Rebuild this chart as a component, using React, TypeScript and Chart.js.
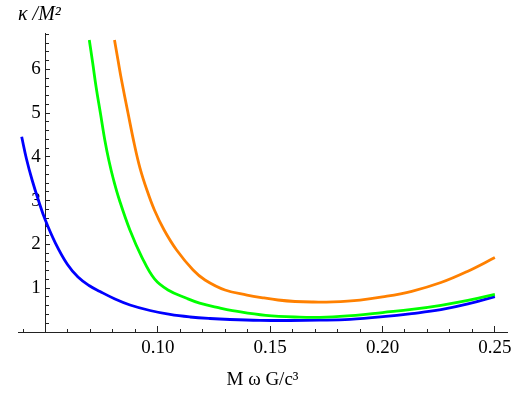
import React, { useEffect, useRef } from "react";
import { Chart, registerables } from "chart.js";

Chart.register(...registerables);

// Blue curve
const blueX = [0.0394, 0.04154, 0.04404, 0.04688, 0.04991, 0.05441, 0.05979, 0.06446, 0.06936, 0.07426, 0.08093, 0.08761, 0.09651, 0.10541, 0.11431, 0.12321, 0.13212, 0.14547, 0.15882, 0.17217, 0.18553, 0.2002, 0.213, 0.226, 0.238, 0.250];
const blueY = [4.46, 3.952, 3.472, 3.004, 2.558, 2.033, 1.542, 1.257, 1.063, 0.925, 0.754, 0.617, 0.491, 0.400, 0.343, 0.308, 0.286, 0.267, 0.263, 0.270, 0.290, 0.349, 0.42, 0.51, 0.64, 0.81];

// Green curve
const greenX = [0.06949, 0.07101, 0.07252, 0.07443, 0.07639, 0.07826, 0.08031, 0.08289, 0.08756, 0.09286, 0.09851, 0.10452, 0.1128, 0.11859, 0.1274, 0.1332, 0.148, 0.163, 0.175, 0.188, 0.200, 0.213, 0.226, 0.238, 0.250];
const greenY = [6.67, 6.144, 5.596, 5.002, 4.386, 3.906, 3.472, 3.015, 2.330, 1.713, 1.211, 0.959, 0.770, 0.660, 0.550, 0.490, 0.380, 0.340, 0.340, 0.380, 0.445, 0.515, 0.61, 0.72, 0.86];

// Orange curve
const orangeX = [0.08071, 0.08218, 0.08383, 0.08672, 0.08952, 0.09206, 0.09513, 0.09847, 0.10279, 0.10835, 0.11569, 0.12099, 0.12989, 0.13968, 0.14725, 0.15348, 0.16105, 0.16861, 0.178, 0.190, 0.200, 0.213, 0.226, 0.238, 0.250];
const orangeY = [6.67, 6.236, 5.756, 5.002, 4.294, 3.746, 3.244, 2.787, 2.330, 1.873, 1.416, 1.188, 0.959, 0.845, 0.777, 0.731, 0.697, 0.685, 0.69, 0.73, 0.80, 0.93, 1.13, 1.39, 1.70];

// Tick labels
const xTickLabels = ["0.10", "0.15", "0.20", "0.25"];
const yTickLabels = ["1", "2", "3", "4", "5", "6"];

const X_MIN = 0.03776;
const X_MAX = 0.2554;
const Y_MIN = 0;
const Y_MAX = 6.83;
const Y_AXIS_AT = 0.05;

const FONT = "'Liberation Serif', 'Times New Roman', serif";

function toPoints(xs: number[], ys: number[]) {
  return xs.map((x, i) => ({ x, y: ys[i] }));
}

export default function App() {
  const ref = useRef<HTMLCanvasElement | null>(null);

  useEffect(() => {
    if (!ref.current) return;
    const lineDs = (label: string, xs: number[], ys: number[], color: string) => ({
      label,
      data: toPoints(xs, ys),
      borderColor: color,
      backgroundColor: color,
      borderWidth: 2.8,
      pointRadius: 0,
      tension: 0.4,
      fill: false,
      xAxisID: "x",
      yAxisID: "y",
    });
    const chart = new Chart(ref.current, {
      type: "line",
      data: {
        datasets: [
          lineDs("orange", orangeX, orangeY, "#ff8000"),
          lineDs("green", greenX, greenY, "#00ff00"),
          lineDs("blue", blueX, blueY, "#0000ff"),
        ],
      },
      options: {
        animation: false,
        responsive: false,
        devicePixelRatio: 1,
        layout: { padding: { left: 18, right: 20, top: 0, bottom: 0 } },
        plugins: {
          legend: { display: false },
          tooltip: { enabled: false },
          title: {
            display: true,
            text: "κ /M²",
            align: "start",
            color: "#000",
            font: { family: FONT, size: 20, style: "italic", weight: "normal", lineHeight: 1.2 },
            padding: { top: 3, bottom: 6 },
          },
        },
        scales: {
          x: {
            type: "linear",
            position: "bottom",
            weight: 1,
            min: X_MIN,
            max: X_MAX,
            afterFit: (s: any) => {
              s.height = 65;
            },
            ticks: {
              stepSize: 0.05,
              autoSkip: false,
              includeBounds: false,
              maxRotation: 0,
              padding: 11,
              color: "#000",
              font: { family: FONT, size: 19 },
              callback: (v: any) => {
                const s = Number(v).toFixed(2);
                return xTickLabels.includes(s) ? s : "";
              },
            },
            grid: { drawOnChartArea: false, drawTicks: true, tickLength: -6, tickColor: "#222", tickWidth: 1 },
            border: { display: true, color: "#222", width: 1 },
            title: {
              display: true,
              text: "M ω G/c³",
              color: "#000",
              font: { family: FONT, size: 19, lineHeight: 1.2 },
              padding: { top: 0, bottom: 6 },
            },
          },
          x2: {
            type: "linear",
            position: "bottom",
            weight: 0,
            min: X_MIN,
            max: X_MAX,
            afterFit: (s: any) => {
              s.height = 0;
            },
            ticks: { display: false, stepSize: 0.01, autoSkip: false, includeBounds: false },
            grid: { drawOnChartArea: false, drawTicks: true, tickLength: -3, tickColor: "#222", tickWidth: 1 },
            border: { display: false },
          },
          y: {
            type: "linear",
            position: { x: Y_AXIS_AT },
            min: Y_MIN,
            max: Y_MAX,
            afterFit: (s: any) => {
              s.width = 0;
            },
            ticks: {
              stepSize: 1,
              autoSkip: false,
              includeBounds: false,
              padding: 9,
              color: "#000",
              font: { family: FONT, size: 19 },
              callback: (v: any) => {
                const s = String(Math.round(Number(v)));
                return yTickLabels.includes(s) ? s + " " : "";
              },
            },
            grid: { drawOnChartArea: false, drawTicks: true, tickLength: -5, tickColor: "#222", tickWidth: 1 },
            border: { display: true, color: "#222", width: 1 },
          },
          y2: {
            type: "linear",
            position: { x: Y_AXIS_AT },
            min: Y_MIN,
            max: Y_MAX,
            afterFit: (s: any) => {
              s.width = 0;
            },
            ticks: { display: false, stepSize: 0.2, autoSkip: false, includeBounds: false },
            grid: { drawOnChartArea: false, drawTicks: true, tickLength: -3, tickColor: "#222", tickWidth: 1 },
            border: { display: false },
          },
        },
      } as any,
    });
    return () => chart.destroy();
  }, []);

  return (
    <div style={{ position: "fixed", left: 0, top: 0, width: 527, height: 397, background: "#fff" }}>
      <canvas ref={ref} width={527} height={397} />
    </div>
  );
}
